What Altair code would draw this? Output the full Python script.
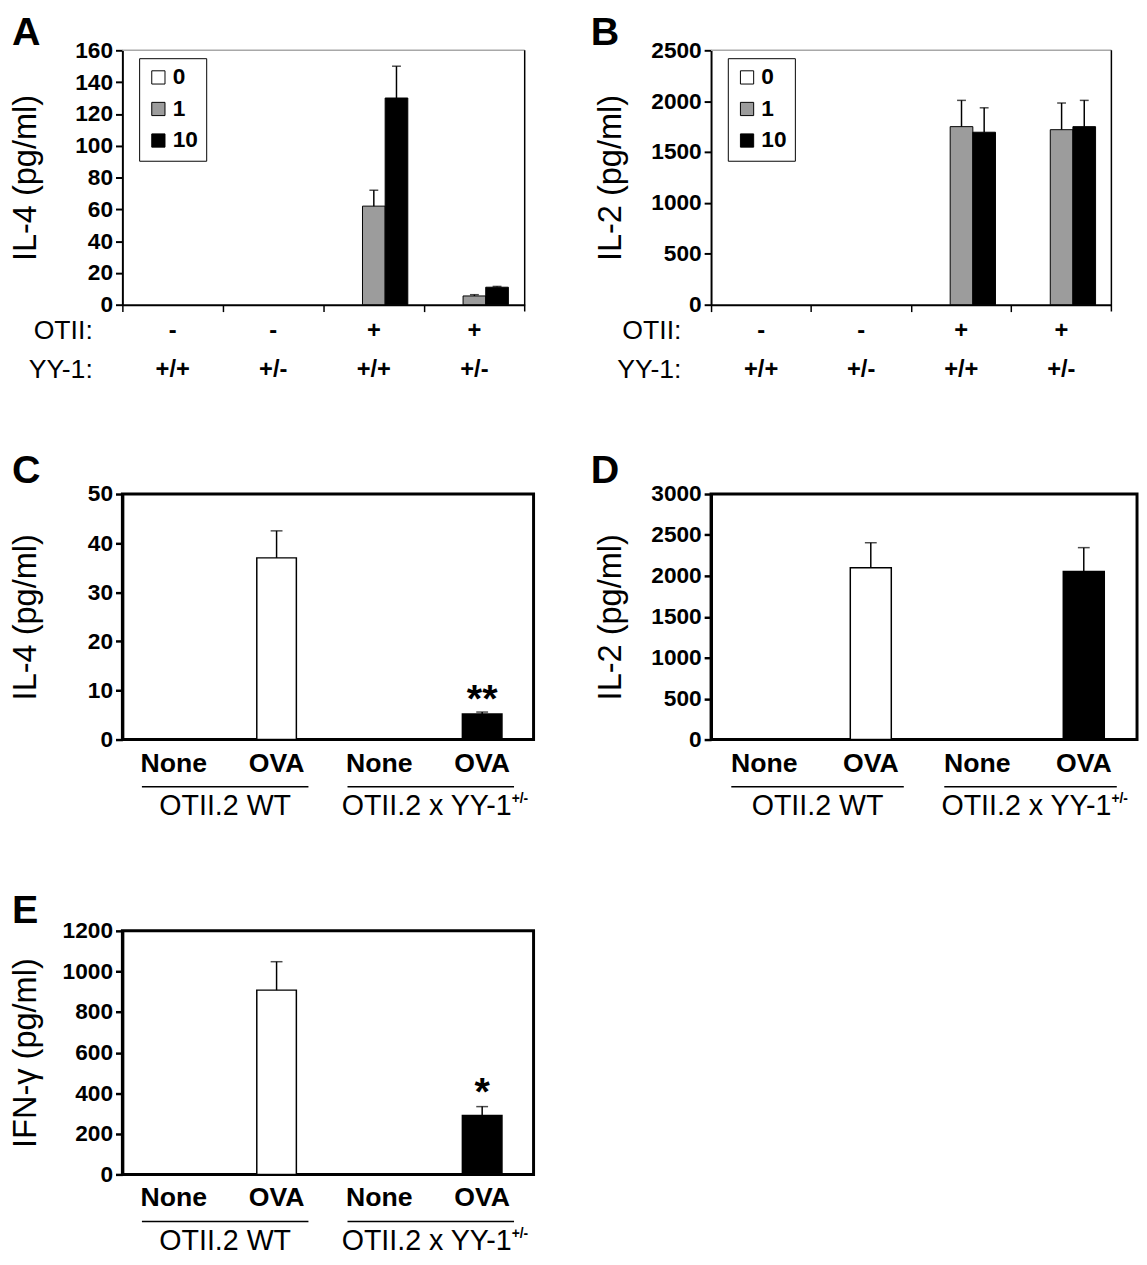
import altair as alt
import pandas as pd

FONT = "Liberation Sans"

# ---------------- Panels A / B data ----------------
cats_ab = ["g1", "g2", "g3", "g4"]
otii_signs = ["-", "-", "+", "+"]
yy1_geno = ["+/+", "+/-", "+/+", "+/-"]
row_labels = ["OTII:", "YY-1:"]
doses = ["0", "1", "10"]

a_dose0 = [0, 0, 0, 0]
a_dose1 = [0, 0, 62, 5.5]
a_dose10 = [0, 0, 130, 11]
a_err1 = [0, 0, 10, 0.8]
a_err10 = [0, 0, 20, 0.5]

b_dose0 = [0, 0, 0, 0]
b_dose1 = [0, 0, 1750, 1720]
b_dose10 = [0, 0, 1695, 1750]
b_err1 = [0, 0, 258, 262]
b_err10 = [0, 0, 240, 258]

# ---------------- Panels C / D / E data ----------------
cats_cde = ["WT_None", "WT_OVA", "YY_None", "YY_OVA"]
genotype = ["WT", "WT", "YY", "YY"]
groups = ["WT", "YY"]
group_labels = ["OTII.2 WT", "OTII.2 x YY-1"]
group_sup = ["", "+/-"]

c_il4 = [0, 37, 0, 5.2]
c_err = [0, 5.5, 0, 0.4]
c_sig = ["", "", "", "**"]

d_il2 = [0, 2100, 0, 2055]
d_err = [0, 305, 0, 290]
d_sig = ["", "", "", ""]

e_ifng = [0, 908, 0, 290]
e_err = [0, 140, 0, 44]
e_sig = ["", "", "", "*"]

dummy = pd.DataFrame({"k": [0]})


def yaxis(title, values, title_x, tick_w=2, dom_w=2):
    return alt.Axis(
        title=title, values=values, grid=False, format="d",
        titleX=title_x, titleAngle=270, titleAlign="center", titleBaseline="middle",
        titleFont=FONT, titleFontSize=33, titleFontWeight="normal", titleColor="black",
        labelFont=FONT, labelFontSize=23, labelFontWeight="bold", labelColor="black",
        labelPadding=3, tickSize=7, tickWidth=tick_w, tickColor="black",
        domainColor="black", domainWidth=dom_w,
    )


def letter_layer(letter, lx, ly):
    return alt.Chart(dummy).mark_text(
        font=FONT, fontSize=40, fontWeight="bold", align="left", baseline="top", color="black"
    ).encode(x=alt.value(lx), y=alt.value(ly), text=alt.value(letter))


def panel_ab(letter, ytitle, v0, v1, v10, e1, e10, ymax, ystep, width, height, title_x, letter_x, letter_y):
    rows = []
    for i, c in enumerate(cats_ab):
        rows.append({"cat": c, "dose": "0", "value": v0[i], "err": 0})
        rows.append({"cat": c, "dose": "1", "value": v1[i], "err": e1[i]})
        rows.append({"cat": c, "dose": "10", "value": v10[i], "err": e10[i]})
    df = pd.DataFrame(rows)

    xsc = alt.Scale(domain=cats_ab, paddingInner=0, paddingOuter=0)
    xax = alt.Axis(title=None, labels=False, bandPosition=0, ticks=True, tickSize=7,
                   tickWidth=1.5, tickColor="black", domainColor="black", domainWidth=2, grid=False)

    def X(f="cat"):
        return alt.X(f"{f}:N", scale=xsc, axis=xax)

    XO = alt.XOffset("dose:N", scale=alt.Scale(domain=doses, paddingInner=0, paddingOuter=0.72))
    ysc = alt.Scale(domain=[0, ymax], nice=False, zero=True)
    yax = yaxis(ytitle, list(range(0, ymax + 1, ystep)), title_x)

    def Y(f):
        return alt.Y(f"{f}:Q", scale=ysc, axis=yax)

    legend = alt.Legend(
        orient="none", legendX=17, legendY=8, title=None, strokeColor="black", fillColor="white",
        padding=8, symbolType="square", symbolSize=180, symbolStrokeColor="black",
        symbolStrokeWidth=1, labelFont=FONT, labelFontSize=23, labelFontWeight="bold",
        labelColor="black", rowPadding=8, labelOffset=3,
    )
    bars = alt.Chart(df).transform_filter("datum.value > 0").mark_bar(
        stroke="black", strokeWidth=1
    ).encode(
        x=X(), xOffset=XO, y=Y("value"),
        fill=alt.Fill("dose:N", scale=alt.Scale(domain=doses, range=["white", "#9c9c9c", "black"]),
                      legend=legend),
    )
    err = alt.Chart(df).transform_filter("datum.err > 0").transform_calculate(
        top="datum.value + datum.err")
    rule = err.mark_rule(color="black", strokeWidth=1.5).encode(
        x=X(), xOffset=XO, y=Y("value"), y2="top:Q")
    cap = err.mark_tick(color="black", thickness=1.5, size=9).encode(
        x=X(), xOffset=XO, y=Y("top"))

    lab = alt.Chart(pd.DataFrame({"cat": cats_ab, "otii": otii_signs, "yy": yy1_geno}))
    t1 = lab.mark_text(font=FONT, fontSize=24, fontWeight="bold", baseline="middle", color="black").encode(
        x=X(), y=alt.value(height + 27), text="otii:N")
    t2 = lab.mark_text(font=FONT, fontSize=24, fontWeight="bold", baseline="middle", color="black").encode(
        x=X(), y=alt.value(height + 66), text="yy:N")
    r1 = alt.Chart(dummy).mark_text(font=FONT, fontSize=27, align="right", baseline="middle", color="black").encode(
        x=alt.value(-30), y=alt.value(height + 27), text=alt.value(row_labels[0]))
    r2 = alt.Chart(dummy).mark_text(font=FONT, fontSize=27, align="right", baseline="middle", color="black").encode(
        x=alt.value(-30), y=alt.value(height + 66), text=alt.value(row_labels[1]))

    top = alt.Chart(dummy).mark_rule(color="#a8a8a8", strokeWidth=1.5).encode(
        x=alt.value(0), x2=alt.value(width), y=alt.value(0))
    right = alt.Chart(dummy).mark_rule(color="black", strokeWidth=1.5).encode(
        x=alt.value(width), y=alt.value(0), y2=alt.value(height + 7))

    return alt.layer(bars, rule, cap, t1, t2, r1, r2, top, right,
                     letter_layer(letter, letter_x, letter_y)).properties(
        width=width, height=height, view=alt.ViewBackground(stroke="transparent"))


def panel_cde(letter, ytitle, vals, errs, sig, ymax, ystep, width, height, title_x,
              letter_x, letter_y, sig_dy):
    df = pd.DataFrame({"cat": cats_cde, "geno": genotype, "value": vals, "err": errs, "sig": sig})
    p = 0.615
    xsc = alt.Scale(domain=cats_cde, paddingInner=p, paddingOuter=p / 2)
    xax = alt.Axis(title=None, labelExpr="split(datum.value, '_')[1]", ticks=False, domain=False,
                   labelFont=FONT, labelFontSize=27, labelFontWeight="bold", labelColor="black",
                   labelPadding=11, labelAngle=0, grid=False)

    def X(f="cat"):
        return alt.X(f"{f}:N", scale=xsc, axis=xax)

    ysc = alt.Scale(domain=[0, ymax], nice=False, zero=True)
    yax = yaxis(ytitle, list(range(0, ymax + 1, ystep)), title_x, tick_w=2.5, dom_w=3)

    def Y(f):
        return alt.Y(f"{f}:Q", scale=ysc, axis=yax)

    bars = alt.Chart(df).transform_filter("datum.value > 0").mark_bar(
        stroke="black", strokeWidth=1.5
    ).encode(
        x=X(), y=Y("value"),
        fill=alt.Fill("geno:N", scale=alt.Scale(domain=["WT", "YY"], range=["white", "black"]), legend=None),
    )
    err = alt.Chart(df).transform_filter("datum.err > 0").transform_calculate(
        top="datum.value + datum.err")
    rule = err.mark_rule(color="black", strokeWidth=1.5).encode(x=X(), y=Y("value"), y2="top:Q")
    cap = err.mark_tick(color="black", thickness=1.5, size=12).encode(x=X(), y=Y("top"))
    stars = err.transform_filter("datum.sig != ''").mark_text(
        font=FONT, fontSize=40, fontWeight="bold", baseline="alphabetic", dy=sig_dy, color="black"
    ).encode(x=X(), y=Y("top"), text="sig:N")

    inner = alt.layer(bars, rule, cap, stars, letter_layer(letter, letter_x, letter_y))

    # group underlines and labels on their own band scale (one band per genotype group)
    gdf = pd.DataFrame({"grp": groups, "label": group_labels, "sup": group_sup})
    gsc = alt.Scale(domain=groups, paddingInner=0.19, paddingOuter=0.095)
    GX = alt.X("grp:N", scale=gsc, axis=None)
    g = alt.Chart(gdf)
    lines = g.mark_bar(color="black").encode(x=GX, y=alt.value(height + 47), y2=alt.value(height + 48.5))
    gl1 = g.transform_filter("datum.sup == ''").mark_text(
        font=FONT, fontSize=29, baseline="middle", align="center", color="black"
    ).encode(x=GX, y=alt.value(height + 68), text="label:N")
    gl2 = g.transform_filter("datum.sup != ''").mark_text(
        font=FONT, fontSize=29, baseline="middle", align="right", dx=82, color="black"
    ).encode(x=GX, y=alt.value(height + 68), text="label:N")
    gl3 = g.transform_filter("datum.sup != ''").mark_text(
        font=FONT, fontSize=14, fontWeight="bold", baseline="middle", align="left", dx=82, color="black"
    ).encode(x=GX, y=alt.value(height + 60), text="sup:N")
    outer = alt.layer(lines, gl1, gl2, gl3)

    return alt.layer(inner, outer).resolve_scale(x="independent").properties(
        width=width, height=height, view=alt.ViewBackground(stroke="black", strokeWidth=3))


A = panel_ab("A", "IL-4 (pg/ml)", a_dose0, a_dose1, a_dose10, a_err1, a_err10,
             160, 20, 408, 258, -98, -112, -37)
B = panel_ab("B", "IL-2 (pg/ml)", b_dose0, b_dose1, b_dose10, b_err1, b_err10,
             2500, 500, 406, 258, -102, -122, -37)
C = panel_cde("C", "IL-4 (pg/ml)", c_il4, c_err, c_sig, 50, 10, 417, 249, -98, -112, -43, 0)
D = panel_cde("D", "IL-2 (pg/ml)", d_il2, d_err, d_sig, 3000, 500, 432, 249, -102, -122, -43, 0)
E = panel_cde("E", "IFN-\u03b3 (pg/ml)", e_ifng, e_err, e_sig, 1200, 200, 417, 247, -98, -112, -40, -2)

chart = alt.concat(A, B, C, D, E, columns=2, spacing={"row": 67, "column": 54}).resolve_scale(
    fill="independent").properties(
    padding={"top": -4, "left": 0, "right": 0, "bottom": 0}, background="white")

chart.save("out.html", embed_options={"renderer": "svg", "actions": False})
